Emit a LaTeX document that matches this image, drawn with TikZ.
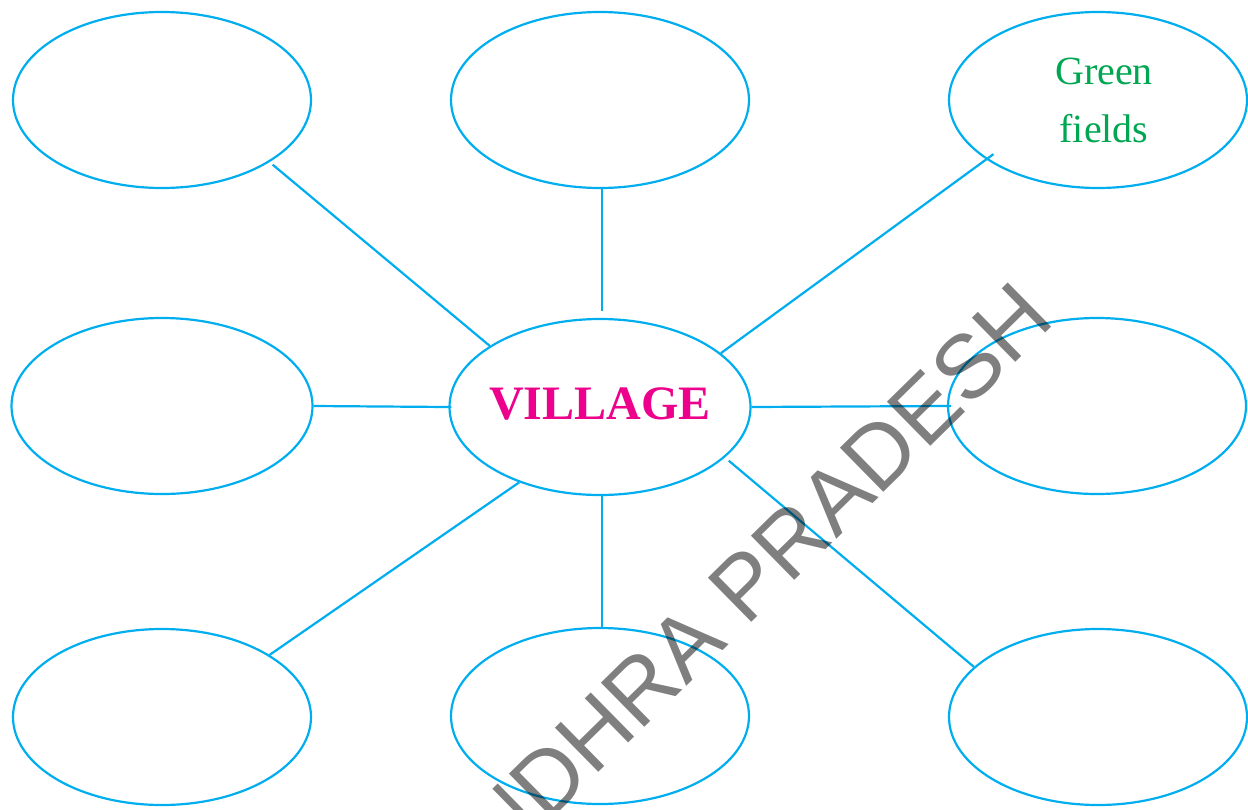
\documentclass[tikz,border=0pt]{standalone}
\usepackage{fontspec}
\setmainfont{Liberation Serif}
\newfontfamily\wmfont{Liberation Sans}
\usetikzlibrary{shapes.geometric}
\definecolor{bubble}{HTML}{00AEEF}
\definecolor{villagepink}{HTML}{EC008C}
\definecolor{fieldgreen}{HTML}{00A651}
\begin{document}
\begin{tikzpicture}[x=1pt,y=-1pt,
  bubble/.style={ellipse, draw=bubble, line width=2.2pt, minimum width=298pt, minimum height=176pt, inner sep=0pt},
  bigbubble/.style={bubble, minimum width=301pt},
  link/.style={draw=bubble, line width=2.2pt},
  hubtext/.style={text=villagepink, font=\bfseries\fontsize{48}{48}\selectfont},
  leaftext/.style={text=fieldgreen, font=\fontsize{40}{58}\selectfont, align=center},
  watermark/.style={font=\wmfont\fontsize{90}{90}\selectfont, text=black, text opacity=0.5, inner sep=0pt}]
\useasboundingbox (0,0) rectangle (1248,809);
\clip (0,0) rectangle (1248,809);
% bubbles
\node[bubble] (TL) at (162,100) {};
\node[bubble] (TM) at (600,100) {};
\node[bubble, label={[leaftext, xshift=6pt]center:{Green\\fields}}] (TR) at (1098,100) {};
\node[bigbubble] (ML) at (162,406) {};
\node[bigbubble, label={[hubtext, yshift=3pt]center:VILLAGE}] (C) at (600,407) {};
\node[bubble] (MR) at (1097,406) {};
\node[bubble] (BL) at (162,717) {};
\node[bubble] (BM) at (600,716) {};
\node[bubble] (BR) at (1098,717) {};
% connectors
\draw[link, shorten <=4pt] (TL.-30) -- (C.151);
\draw[link, shorten >=7pt] ([xshift=2pt]TM.south) -- ([xshift=2pt]C.north);
\draw[link, shorten <=-9pt] (TR.208) -- (C.24);
\draw[link, shorten >=-3pt] (ML.east) -- (C.west);
\draw[link, shorten >=-4pt] (C.east) -- (MR.west);
\draw[link] (C.223) -- (BL.30);
\draw[link] ([xshift=2pt]C.south) -- ([xshift=2pt]BM.north);
\draw[link, shorten <=5pt] (C.-22.5) -- (BR.158.6);
% watermark
\node[watermark, rotate=44.5, anchor=base west] (wm) at (458,911) {ANDHRA PRADESH};
\end{tikzpicture}
\end{document}
